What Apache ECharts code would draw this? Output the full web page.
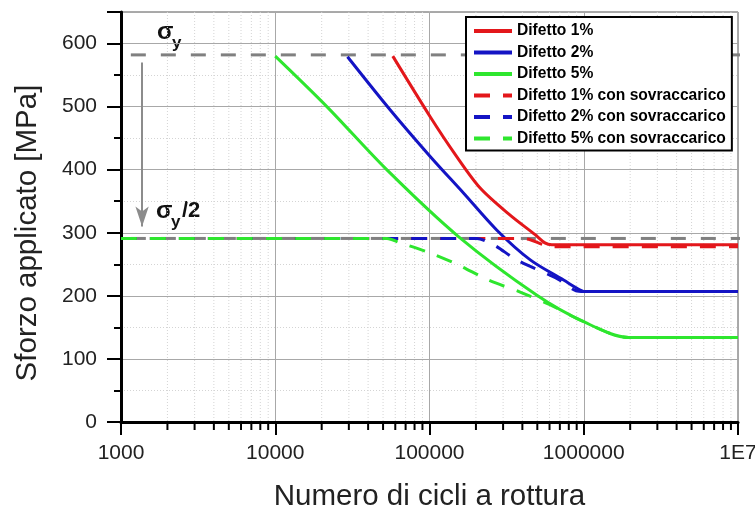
<!DOCTYPE html>
<html>
<head>
<meta charset="utf-8">
<script src="https://cdn.jsdelivr.net/npm/echarts@6/dist/echarts.min.js"></script>
<style>
  html, body { margin: 0; padding: 0; background: #fff; }
  #chart { width: 755px; height: 509px; }
</style>
</head>
<body>
<div id="chart"></div>
<script>
var FONT = '"Liberation Sans", Arial, sans-serif';

// axis ticks
var xTicks = [1000, 10000, 100000, 1000000, 10000000];
var xTickLabels = ['1000', '10000', '100000', '1000000', '1E7'];
var decades = [1000, 10000, 100000, 1000000];

// reference stress levels
var sigmaY = 582;
var sigmaHalf = 291;
var sigmaSpan = [740, 13000000];
var arrowCycles = 1370;
var arrowStress = [570, 310];

var names = [
  'Difetto 1%', 'Difetto 2%', 'Difetto 5%',
  'Difetto 1% con sovraccarico', 'Difetto 2% con sovraccarico', 'Difetto 5% con sovraccarico'
];
var colors = ['#e3171b', '#1414c4', '#2ee62e'];

// Difetto 1%
var d1Cycles = [57800, 101000, 147000, 213000, 333000, 484000, 560000, 620000, 10000000];
var d1Stress = [580, 484, 424, 371, 328, 297, 284, 281, 281];
// Difetto 2%
var d2Cycles = [29400, 55500, 101000, 166000, 273500, 450000, 740000, 948000, 1000000, 10000000];
var d2Stress = [579, 495, 421, 363, 304, 257, 225, 209, 207, 207];
// Difetto 5%
var d5Cycles = [10000, 21600, 52800, 154000, 497000, 1000000, 1950000, 10000000];
var d5Stress = [580, 500, 400, 294, 201, 159, 134, 134];
// con sovraccarico
var o1Cycles = [1000, 400000, 450000, 548000, 620000, 10000000];
var o1Stress = [291, 291, 289, 281, 278, 278];
var o2Cycles = [1000, 203000, 240000, 273000, 368000, 700000, 891000, 1000000, 10000000];
var o2Stress = [291, 291, 285, 278, 257, 225, 208, 207, 207];
var o5Cycles = [1000, 53000, 64400, 98400, 154000, 241000, 387000, 603000, 1000000, 1950000, 10000000];
var o5Stress = [291, 291, 284, 269, 249, 225, 206, 186, 159, 134, 134];

function pairs(xs, ys) {
  return xs.map(function(x, i) { return [x, ys[i]]; });
}

var minorX = [];
decades.forEach(function(d) {
  for (var k = 2; k < 10; k++) minorX.push(d * k);
});

var chart = echarts.init(document.getElementById('chart'));

function curve(name, data, color, dashed) {
  return {
    name: name,
    type: 'line',
    data: data,
    symbol: 'none',
    silent: true,
    smooth: 0.3,
    lineStyle: { color: color, width: 3, type: dashed ? [16, 13] : 'solid' },
    itemStyle: { color: color }
  };
}

var option = {
  backgroundColor: '#fff',
  animation: false,
  grid: {
    left: 121, right: 17, top: 12, bottom: 87,
    outerBoundsMode: 'none',
    show: true, borderColor: '#555', borderWidth: 1, backgroundColor: 'transparent'
  },
  legend: {
    orient: 'vertical',
    left: 466, top: 17,
    data: names,
    selectedMode: false,
    backgroundColor: '#fff',
    borderColor: '#000',
    borderWidth: 2,
    borderRadius: 0,
    padding: [6, 6, 4, 6],
    itemGap: 5.5,
    itemWidth: 38,
    itemHeight: 14,
    itemStyle: { opacity: 0, borderWidth: 0 },
    lineStyle: { width: 4 },
    textStyle: { fontFamily: FONT, fontWeight: 'bold', fontSize: 15.6, color: '#000', lineHeight: 16 }
  },
  xAxis: {
    type: 'log',
    logBase: 10,
    min: 1000,
    max: 10000000,
    name: 'Numero di cicli a rottura',
    nameLocation: 'middle',
    nameGap: 60,
    nameTextStyle: { fontFamily: FONT, fontSize: 29.5, color: '#222' },
    axisLine: { show: true, onZero: false, lineStyle: { color: '#000', width: 3 } },
    axisTick: { show: true, length: 13, lineStyle: { color: '#000', width: 2 } },
    axisLabel: {
      fontFamily: FONT, fontSize: 21, color: '#222', margin: 21,
      formatter: function(v) {
        var i = xTicks.indexOf(Math.round(v));
        return i >= 0 ? xTickLabels[i] : '';
      }
    },
    splitLine: { show: true, lineStyle: { color: '#a8a8a8', width: 1 } },
    minorTick: { show: false }
  },
  yAxis: {
    type: 'value',
    min: 0,
    max: 650,
    interval: 100,
    name: 'Sforzo applicato [MPa]',
    nameLocation: 'middle',
    nameGap: 78,
    nameTextStyle: { fontFamily: FONT, fontSize: 29.5, color: '#222', padding: [0, 32, 0, 0] },
    axisLine: { show: true, onZero: false, lineStyle: { color: '#000', width: 3 } },
    axisTick: { show: true, length: 14, lineStyle: { color: '#000', width: 2 } },
    minorTick: { show: true, splitNumber: 2, length: 7, lineStyle: { color: '#000', width: 2 } },
    axisLabel: { fontFamily: FONT, fontSize: 21, color: '#222', margin: 24, showMaxLabel: false },
    splitLine: { show: true, lineStyle: { color: '#a8a8a8', width: 1 } },
    minorSplitLine: { show: true, lineStyle: { color: '#d4d4d4', width: 1, type: [1, 2] } }
  },
  graphic: [
    { type: 'text', left: 157, top: 20, style: { text: 'σ', font: 'bold 24px ' + FONT, fill: '#111' } },
    { type: 'text', left: 172, top: 35, style: { text: 'y', font: 'bold 17px ' + FONT, fill: '#111' } },
    { type: 'text', left: 156, top: 199, style: { text: 'σ', font: 'bold 24px ' + FONT, fill: '#111' } },
    { type: 'text', left: 171, top: 214, style: { text: 'y', font: 'bold 17px ' + FONT, fill: '#111' } },
    { type: 'text', left: 182, top: 200, style: { text: '/2', font: 'bold 22px ' + FONT, fill: '#111' } }
  ],
  series: [
    {
      type: 'custom',
      silent: true,
      clip: false,
      z: 1,
      data: minorX.map(function(v) { return [v, 0]; }),
      encode: { x: 0, y: 1 },
      renderItem: function(params, api) {
        var v = api.value(0);
        var top = api.coord([v, 650]);
        var bot = api.coord([v, 0]);
        return {
          type: 'group',
          children: [
            { type: 'line', shape: { x1: top[0], y1: top[1], x2: bot[0], y2: bot[1] },
              style: { stroke: '#d4d4d4', lineWidth: 1, lineDash: [1, 2] } },
            { type: 'line', shape: { x1: bot[0], y1: bot[1] + 1, x2: bot[0], y2: bot[1] + 8 },
              style: { stroke: '#000', lineWidth: 2 } }
          ]
        };
      }
    },
    {
      type: 'line',
      silent: true,
      clip: false,
      symbol: 'none',
      data: pairs(sigmaSpan, [sigmaY, sigmaY]),
      lineStyle: { color: '#808080', width: 3, type: [15, 15] },
      markLine: {
        silent: true,
        symbol: ['none', 'arrow'],
        symbolSize: [10, 20],
        label: { show: false },
        lineStyle: { color: '#8c8c8c', width: 2, type: 'solid' },
        data: [[{ coord: [arrowCycles, arrowStress[0]] }, { coord: [arrowCycles, arrowStress[1]] }]]
      }
    },
    {
      type: 'line',
      silent: true,
      clip: false,
      symbol: 'none',
      data: pairs(sigmaSpan, [sigmaHalf, sigmaHalf]),
      lineStyle: { color: '#808080', width: 3, type: [15, 15] }
    },
    curve(names[0], pairs(d1Cycles, d1Stress), colors[0], false),
    curve(names[1], pairs(d2Cycles, d2Stress), colors[1], false),
    curve(names[2], pairs(d5Cycles, d5Stress), colors[2], false),
    curve(names[3], pairs(o1Cycles, o1Stress), colors[0], true),
    curve(names[4], pairs(o2Cycles, o2Stress), colors[1], true),
    curve(names[5], pairs(o5Cycles, o5Stress), colors[2], true)
  ]
};

chart.setOption(option);
</script>
</body>
</html>
